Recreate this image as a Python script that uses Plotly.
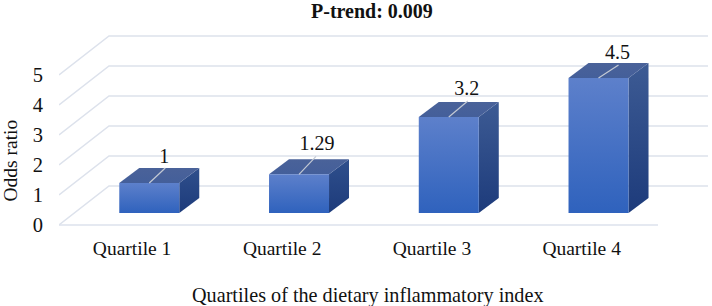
import plotly.graph_objects as go

categories = ["Quartile 1", "Quartile 2", "Quartile 3", "Quartile 4"]
odds_ratio = [1, 1.29, 3.2, 4.5]
value_labels = ["1", "1.29", "3.2", "4.5"]
y_ticks = [0, 1, 2, 3, 4, 5]

FONT = "Liberation Serif"
PX_X = 149.75   # px per category
PX_Y = 30.0     # px per unit
L, R, T, B = 59, 4, 20, 76
W, H = 712, 306
WALL_DX, WALL_DY = 50, 39
BAR_DEPTH0 = (15.4, 12)   # front of the bar relative to the front of the floor
BAR_DX, BAR_DY = 20, 15
HALF = 30
GRID = "#dde2ec"


def pt(cat, val, dx=0, dy=0):
    return cat + dx / PX_X, val + dy / PX_Y


def poly(points, top, bottom):
    xs = [p[0] for p in points] + [points[0][0]]
    ys = [p[1] for p in points] + [points[0][1]]
    return go.Scatter(
        x=xs, y=ys, mode="lines", fill="toself", line=dict(width=0),
        fillgradient=dict(type="vertical", colorscale=[[0, bottom], [1, top]]),
        hoverinfo="skip", showlegend=False,
    )


fig = go.Figure()

# floor + wall gridlines
for t in y_ticks:
    xs = [pt(-0.5, t)[0], pt(-0.5, t, WALL_DX, WALL_DY)[0], pt(3.5, t, WALL_DX, WALL_DY)[0]]
    ys = [pt(-0.5, t)[1], pt(-0.5, t, WALL_DX, WALL_DY)[1], pt(3.5, t, WALL_DX, WALL_DY)[1]]
    fig.add_trace(go.Scatter(x=xs, y=ys, mode="lines", line=dict(color=GRID, width=1.5),
                             hoverinfo="skip", showlegend=False))
fig.add_trace(go.Scatter(x=[-0.5, 3.5], y=[0, 0], mode="lines", line=dict(color=GRID, width=1.5),
                         hoverinfo="skip", showlegend=False))

# leader offsets and label offsets (px) per bar
leader = [(16, 15), (17, 18), (19, 16), (20, 13)]
label = [(15, 25), (18, 29), (18, 27), (19, 24)]

for i, v in enumerate(odds_ratio):
    bx, by = BAR_DEPTH0
    f = lambda sx, val, dx=0, dy=0: pt(i, val, bx + sx * HALF + dx, by + dy)
    # side
    fig.add_trace(poly([f(1, 0), f(1, 0, BAR_DX, BAR_DY), f(1, v, BAR_DX, BAR_DY), f(1, v)],
                       "#3d5b94" if v > 2 else "#2f4f8c", "#1d3b7b"))
    # top
    fig.add_trace(poly([f(-1, v), f(1, v), f(1, v, BAR_DX, BAR_DY), f(-1, v, BAR_DX, BAR_DY)],
                       "#4a6299", "#445f9a"))
    # front
    fig.add_trace(poly([f(-1, 0), f(1, 0), f(1, v), f(-1, v)], "#5d80cb", "#2f62bd"))
    # leader
    a = f(0, v)
    b = f(0, v, *leader[i])
    fig.add_trace(go.Scatter(x=[a[0], b[0]], y=[a[1], b[1]], mode="lines",
                             line=dict(color="#c4cad4", width=1.2),
                             hoverinfo="skip", showlegend=False))
    # value text
    c = f(0, v, *label[i])
    fig.add_trace(go.Scatter(x=[c[0]], y=[c[1]], mode="text", text=[value_labels[i]],
                             textposition="middle center",
                             textfont=dict(family=FONT, size=20, color="#111"),
                             hoverinfo="skip", showlegend=False))

plot_w = W - L - R
plot_h = H - T - B
fig.update_layout(
    width=W, height=H, showlegend=False,
    margin=dict(l=L, r=R, t=T, b=B, pad=0),
    paper_bgcolor="white", plot_bgcolor="white",
    font=dict(family=FONT, color="#111", size=19.5),
    xaxis=dict(range=[-0.5, -0.5 + plot_w / PX_X], tickvals=[-0.012, 0.99, 1.99, 2.99],
               ticktext=categories,
               showgrid=False, zeroline=False, showline=False,
               ticks="outside", ticklen=1, tickcolor="rgba(0,0,0,0)", fixedrange=True),
    yaxis=dict(range=[(225 - (H - B)) / PX_Y, (225 - T) / PX_Y], tickvals=y_ticks,
               showgrid=False, zeroline=False, showline=False, tickfont=dict(size=20.5),
               ticks="outside", ticklen=11, tickcolor="rgba(0,0,0,0)", fixedrange=True),
    annotations=[
        dict(text="<b>P-trend: 0.009</b>", xref="paper", yref="paper",
             x=(372 - L) / plot_w, y=(H - B - 11) / plot_h, showarrow=False,
             font=dict(family=FONT, size=20, color="#111"), yanchor="middle"),
        dict(text="Quartiles of the dietary inflammatory index", xref="paper", yref="paper",
             x=(368 - L) / plot_w, y=(H - B - 295) / plot_h, showarrow=False,
             font=dict(family=FONT, size=20.2, color="#111"), yanchor="middle"),
        dict(text="Odds ratio", xref="paper", yref="paper", textangle=-90,
             x=(9.5 - L) / plot_w, y=(H - B - 161) / plot_h, showarrow=False,
             font=dict(family=FONT, size=19.5, color="#111"), xanchor="center", yanchor="middle"),
    ],
)

fig.write_html("out.html", post_script="document.body.style.margin='0';",
               config={"displayModeBar": False})
